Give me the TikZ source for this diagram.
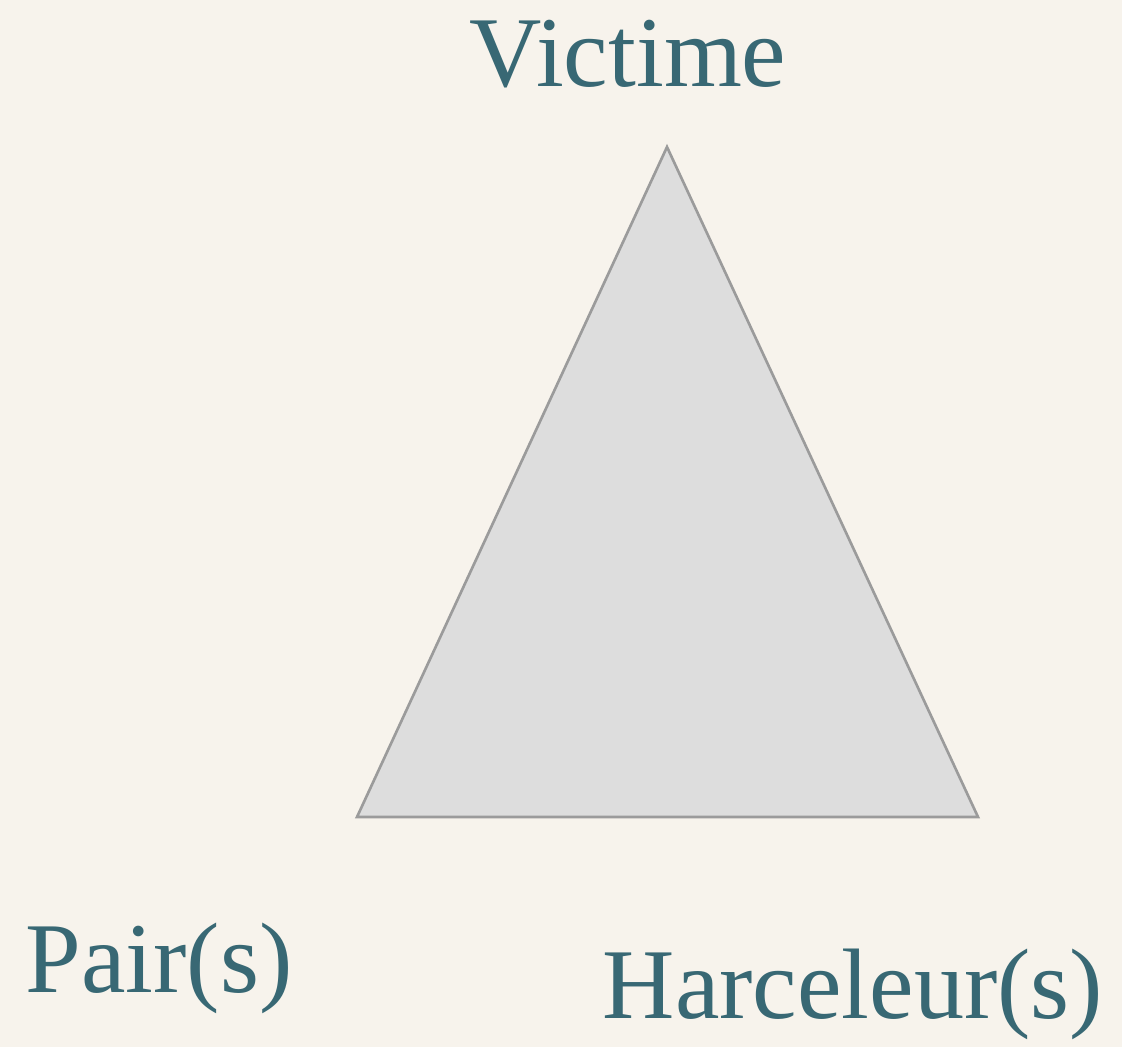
\documentclass[tikz,border=0pt]{standalone}
\usepackage{fontspec}
\setmainfont{Liberation Serif}
\usepackage{xcolor}
\usepackage{tikz}
\usetikzlibrary{backgrounds}
\definecolor{paperFill}{RGB}{247,243,236}
\definecolor{triFill}{RGB}{221,221,221}
\definecolor{triLine}{RGB}{155,155,155}
\definecolor{roleInk}{RGB}{56,104,116}
\tikzset{
  roleLabel/.style={
    text=roleInk,
    font=\fontsize{57}{68}\selectfont,
    inner sep=0pt,
    anchor=base
  },
  triangleShape/.style={
    draw=triLine,
    line width=1.5pt,
    fill=triFill,
    line join=miter
  }
}
\begin{document}
\begin{tikzpicture}
  \fill[paperFill] (0,0) rectangle (22.44,20.94);
  \useasboundingbox (0,0) rectangle (22.44,20.94);

  \coordinate (top) at (13.34,18.00);
  \coordinate (left) at (7.14,4.60);
  \coordinate (right) at (19.56,4.60);
  \draw[triangleShape] (top) -- (right) -- (left) -- cycle;

  \node[roleLabel] (victime) at (12.56,19.20) {Victime};
  \node[roleLabel] (pairs) at (3.18,1.08) {Pair(s)};
  \node[roleLabel] (harceleurs) at (17.06,0.56) {Harceleur(s)};
\end{tikzpicture}
\end{document}
